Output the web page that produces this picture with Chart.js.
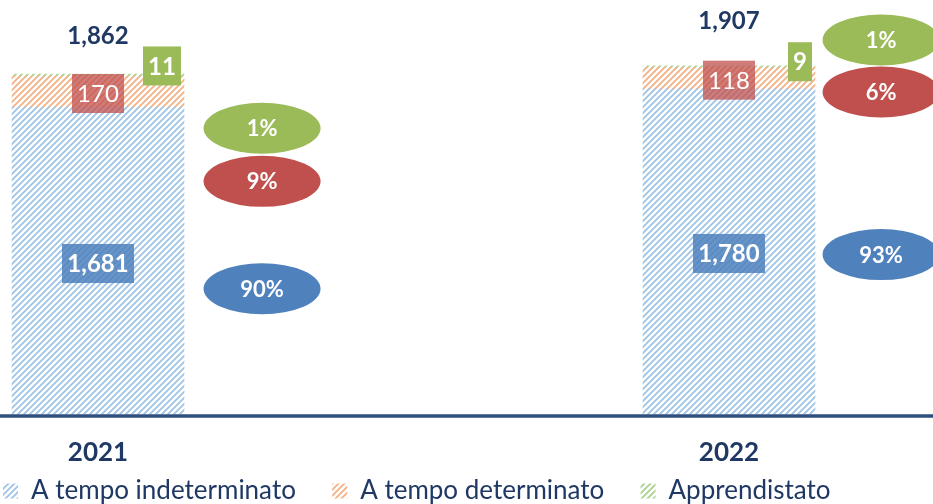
<!DOCTYPE html>
<html>
<head>
<meta charset="utf-8">
<script src="https://cdn.jsdelivr.net/npm/chart.js@4.4.1/dist/chart.umd.min.js"></script>
<style>
  html, body { margin: 0; padding: 0; background: #fff; }
  #wrap { width: 933px; height: 504px; position: relative; }
</style>
</head>
<body>
<div id="wrap"><canvas id="chart"></canvas></div>
<script>
// data
const years = ["2021", "2022"];
const indeterminato = [1681, 1780];
const determinato = [170, 118];
const apprendistato = [11, 9];
const totals = [1862, 1907];
const pctIndeterminato = [90, 93];
const pctDeterminato = [9, 6];
const pctApprendistato = [1, 1];

const NAVY = "#1F3864";

function hatch(color) {
  const c = document.createElement("canvas");
  c.width = 6; c.height = 6;
  const g = c.getContext("2d");
  g.strokeStyle = color;
  g.lineWidth = 1.8;
  g.beginPath();
  g.moveTo(0, 6); g.lineTo(6, 0);
  g.moveTo(-3, 3); g.lineTo(3, -3);
  g.moveTo(3, 9); g.lineTo(9, 3);
  g.stroke();
  return g.createPattern(c, "repeat");
}

const blueFill = hatch("#9DC3E6");
const orangeFill = hatch("#F4B183");
const greenFill = hatch("#A9D18E");

const fmt = v => v.toLocaleString("en-US");

// labels on the bars + percentage ellipses at the side
const labelsPlugin = {
  id: "labels",
  afterDatasetsDraw(chart, args, opts) {
    const ctx = chart.ctx;
    const x = chart.scales.x, y = chart.scales.y;
    const m0 = chart.getDatasetMeta(0).data;
    const m1 = chart.getDatasetMeta(1).data;
    const m2 = chart.getDatasetMeta(2).data;

    function box(text, cx, cy, bg, bold, w) {
      ctx.save();
      ctx.font = (bold ? "bold " : "") + "24px Lato";
      const h = 39;
      ctx.fillStyle = bg;
      ctx.fillRect(cx - w / 2, cy - h / 2, w, h);
      ctx.fillStyle = "#fff";
      ctx.textAlign = "center";
      ctx.textBaseline = "middle";
      ctx.fillText(text, cx, cy + 1);
      ctx.restore();
    }

    function ellipse(text, cx, cy, bg) {
      ctx.save();
      ctx.fillStyle = bg;
      ctx.beginPath();
      ctx.ellipse(cx, cy, 58.5, 25.5, 0, 0, Math.PI * 2);
      ctx.fill();
      ctx.fillStyle = "#fff";
      ctx.font = "bold 22px Lato";
      ctx.textAlign = "center";
      ctx.textBaseline = "middle";
      ctx.fillText(text, cx, cy + 1);
      ctx.restore();
    }

    years.forEach((yr, i) => {
      const b0 = m0[i], b1 = m1[i], b2 = m2[i];
      box(fmt(indeterminato[i]), b0.x, (b0.y + b0.base) / 2 + opts.blueDy[i], "rgba(79,129,189,0.85)", true, 72);
      box(fmt(determinato[i]), b1.x, (b1.y + b1.base) / 2 + 2, "rgba(192,80,77,0.75)", false, 52);
      const gw = opts.greenW[i];
      box(fmt(apprendistato[i]), b2.x + b2.width / 2 - opts.greenInset[i] - gw / 2, b2.y - opts.greenDy[i], "#9BBB59", true, gw);

      ctx.save();
      ctx.fillStyle = NAVY;
      ctx.font = "bold 24px Lato";
      ctx.textAlign = "center";
      ctx.textBaseline = "middle";
      ctx.fillText(fmt(totals[i]), b2.x, b2.y - opts.totalDy[i]);
      ctx.restore();

      const ex = x.getPixelForValue(i + opts.ellipseDx[i]);
      ellipse(pctApprendistato[i] + "%", ex, y.getPixelForValue(opts.ellipseY[i][0]), "#9BBB59");
      ellipse(pctDeterminato[i] + "%", ex, y.getPixelForValue(opts.ellipseY[i][1]), "#C0504D");
      ellipse(pctIndeterminato[i] + "%", ex, y.getPixelForValue(opts.ellipseY[i][2]), "#4F81BD");
    });

    // baseline across the whole width
    const by = y.getPixelForValue(0);
    ctx.save();
    ctx.strokeStyle = "#2F4F7F";
    ctx.lineWidth = 3.5;
    ctx.beginPath();
    ctx.moveTo(0, by + 2);
    ctx.lineTo(chart.width, by + 2);
    ctx.stroke();
    ctx.restore();
  }
};

// legend spacing: pad label text so items sit apart like the original
const gap = "     ";

new Chart(document.getElementById("chart"), {
  type: "bar",
  data: {
    datasets: [
      { label: "A tempo indeterminato", data: indeterminato.map((v, i) => ({ x: i, y: v })), backgroundColor: blueFill },
      { label: "A tempo determinato", data: determinato.map((v, i) => ({ x: i, y: v })), backgroundColor: orangeFill },
      { label: "Apprendistato", data: apprendistato.map((v, i) => ({ x: i, y: v })), backgroundColor: greenFill }
    ]
  },
  options: {
    responsive: true,
    maintainAspectRatio: false,
    animation: false,
    layout: { padding: { top: 0, left: 0, right: 0, bottom: -10 } },
    datasets: { bar: { barThickness: 172, borderWidth: 0, clip: false } },
    scales: {
      x: {
        type: "linear",
        stacked: true,
        offset: false,
        min: -0.1553,
        max: 1.3233,
        afterBuildTicks: s => { s.ticks = years.map((_, i) => ({ value: i })); },
        afterFit: s => { s.height = 61; },
        ticks: {
          callback: v => years[v],
          color: NAVY,
          font: { family: "Lato", size: 26, weight: "bold" },
          padding: 23.5,
          maxRotation: 0
        },
        grid: { display: false, drawTicks: false },
        border: { display: false }
      },
      y: {
        stacked: true,
        display: false,
        min: 0,
        max: 2267
      }
    },
    plugins: {
      legend: {
        position: "bottom",
        align: "start",
        labels: {
          color: NAVY,
          font: { family: "Lato", size: 26, lineHeight: 1 },
          boxWidth: 15,
          boxHeight: 15,
          padding: 3,
          generateLabels(chart) {
            const items = Chart.defaults.plugins.legend.labels.generateLabels(chart);
            items.forEach((it, k) => { if (k < items.length - 1) it.text += gap; });
            return items;
          }
        }
      },
      tooltip: { enabled: false },
      labels: {
        blueDy: [3, 2],
        greenW: [38, 24],
        greenInset: [3, 3],
        greenDy: [8, 4],
        totalDy: [38, 44],
        ellipseDx: [0.26, 0.241],
        ellipseY: [[1565, 1274, 686], [2048, 1763, 873]]
      }
    }
  },
  plugins: [labelsPlugin]
});
</script>
</body>
</html>
